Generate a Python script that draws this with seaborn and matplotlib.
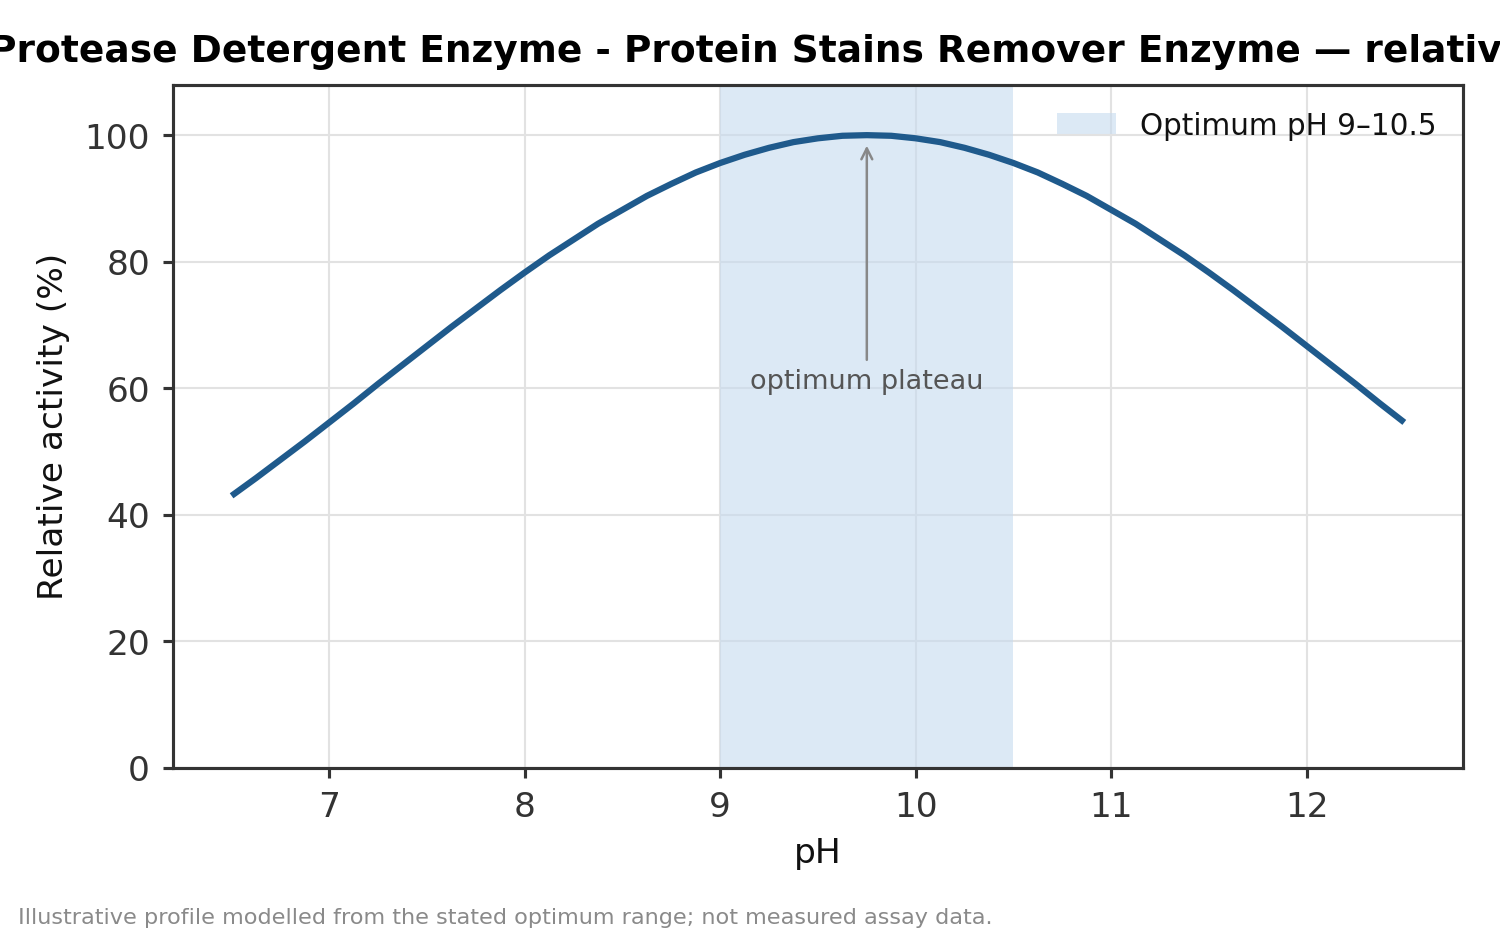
import matplotlib
matplotlib.use("Agg")
import matplotlib.pyplot as plt
import seaborn as sns
import pandas as pd

# values (0.125 pH steps)
ph = [6.5, 6.625, 6.75, 6.875, 7.0, 7.125, 7.25, 7.375, 7.5, 7.625, 7.75, 7.875,
      8.0, 8.125, 8.25, 8.375, 8.5, 8.625, 8.75, 8.875, 9.0, 9.125, 9.25, 9.375,
      9.5, 9.625, 9.75, 9.875, 10.0, 10.125, 10.25, 10.375, 10.5, 10.625, 10.75,
      10.875, 11.0, 11.125, 11.25, 11.375, 11.5, 11.625, 11.75, 11.875, 12.0,
      12.125, 12.25, 12.375, 12.5]
activity = [43.0, 45.8, 48.7, 51.6, 54.6, 57.6, 60.7, 63.7, 66.7, 69.7, 72.6, 75.5,
            78.3, 81.0, 83.5, 86.0, 88.2, 90.4, 92.3, 94.1, 95.6, 96.9, 98.0, 98.9,
            99.5, 99.9, 100.0, 99.9, 99.5, 98.9, 98.0, 96.9, 95.6, 94.1, 92.3,
            90.4, 88.2, 86.0, 83.5, 81.0, 78.3, 75.5, 72.6, 69.7, 66.7,
            63.7, 60.7, 57.6, 54.6]
opt_range = [9.0, 10.5]
peak_ph = 9.75
xticks = [7, 8, 9, 10, 11, 12]
yticks = [0, 20, 40, 60, 80, 100]

title = "Protease Detergent Enzyme - Protein Stains Remover Enzyme \u2014 relative activity"
footer = "Illustrative profile modelled from the stated optimum range; not measured assay data."

df = pd.DataFrame({"pH": ph, "activity": activity})

sns.set_theme(style="whitegrid", context="talk")
plt.rcParams['font.family'] = ['DejaVu Sans']

fig, ax = plt.subplots(figsize=(10, 6.25), dpi=150)
fig.subplots_adjust(left=0.1153, right=0.9753, top=0.9093, bottom=0.1804)

ax.axvspan(opt_range[0], opt_range[1], color="#c6dbef", alpha=0.6, lw=0,
           label="Optimum pH 9\u201310.5", zorder=1)
sns.lineplot(data=df, x="pH", y="activity", ax=ax, color="#1f5a8c", lw=3.0,
             solid_capstyle="butt", zorder=3)

ax.annotate("optimum plateau", xy=(peak_ph, 99), xytext=(peak_ph, 61),
            ha="center", va="center", fontsize=13, color="#555555",
            arrowprops=dict(arrowstyle="->", color="#888888", lw=1.2), zorder=4)

ax.set_xlim(6.2, 12.8)
ax.set_ylim(0, 108)
ax.set_xticks(xticks)
ax.set_yticks(yticks)
ax.grid(True, color="#e2e2e2", lw=1.0)
ax.set_axisbelow(True)
for s in ax.spines.values():
    s.set_color("#333333")
    s.set_linewidth(1.5)
ax.tick_params(axis="both", which="major", length=5, width=1.5, color="#333333",
               labelcolor="#333333", labelsize=16.5, bottom=True, left=True, pad=6)

ax.set_xlabel("pH", fontsize=16.5, color="#111111", labelpad=6)
ax.set_ylabel("Relative activity (%)", fontsize=16.5, color="#111111", labelpad=7)
# long title overflows the canvas, like the reference
ax.set_title(title, fontsize=18, fontweight="bold", color="black", pad=11, x=0.52)

ax.legend(loc="upper right", frameon=False, fontsize=14.2, labelcolor="#111111")

fig.text(0.012, 0.014, footer, fontsize=10.75, color="#8a8a8a", ha="left", va="baseline")

fig.savefig("out.png", dpi=150)
